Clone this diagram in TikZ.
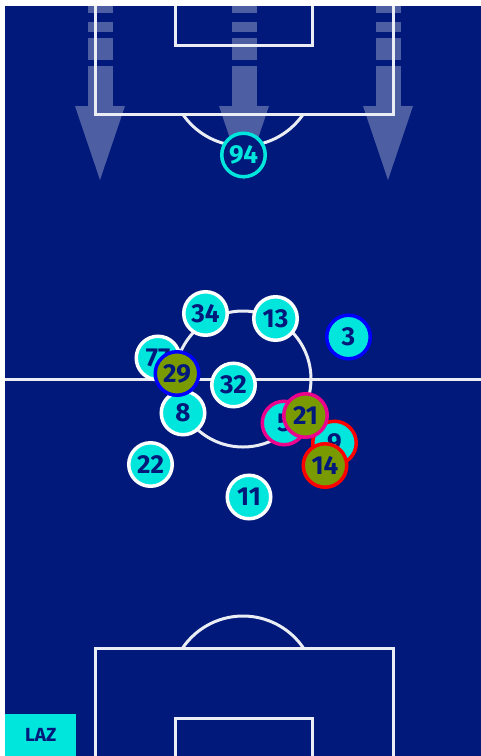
\documentclass[tikz,border=0pt]{standalone}
\usepackage{fontspec}
\setmainfont{Fira Sans}
\definecolor{pitchblue}{HTML}{00197A}
\definecolor{lazcyan}{HTML}{00E6DC}
\definecolor{oppolive}{HTML}{7A9A01}
\begin{document}
\begin{tikzpicture}[x=1pt,y=-1pt,
  pline/.style={white!92!pitchblue, line width=3pt},
  runarrow/.style={white, opacity=0.3},
  player/.style={circle, minimum size=43.5pt, inner sep=0pt, line width=3.5pt, font=\fontsize{26}{26}\selectfont\bfseries, text=pitchblue},
  laz/.style={player, fill=lazcyan, draw=white},
  opp/.style={player, fill=oppolive}]
\fill[white] (0,0) rectangle (481,756);
\fill[pitchblue] (5,6) rectangle (481,756);
\useasboundingbox (0,0) rectangle (481,756);
\foreach \x in {100,244,388} {
  \foreach \a/\b in {6/13,22/32,38/60,66/106}
    \fill[runarrow] (\x-12.5,\a) rectangle (\x+12.5,\b);
  \fill[runarrow] (\x-25,106) -- (\x+25,106) -- (\x,180) -- cycle;
}
\draw[pline] (5,379) -- (481,379);
\draw[pline] (243,379) circle[radius=68];
\draw[pline] (95,6) -- (95,114) -- (393,114) -- (393,6);
\draw[pline] (175,6) -- (175,45) -- (312,45) -- (312,6);
\draw[pline] (243,73) ++(34:73) arc[start angle=34, end angle=146, radius=73];
\draw[pline] (95,760) -- (95,648) -- (393,648) -- (393,760);
\draw[pline] (175,760) -- (175,718) -- (312,718) -- (312,760);
\draw[pline] (243,689) ++(214:73) arc[start angle=214, end angle=326, radius=73];
\node[player, draw=lazcyan, fill=pitchblue, text=lazcyan] (p94) at (243.5,155) {94};
\node[laz] (p34) at (205.5,313.5) {34};
\node[laz] (p13) at (275.5,318.5) {13};
\node[laz, draw=blue] (p3) at (348.5,337) {3};
\node[laz] (p77) at (158,358) {77};
\node[laz] (p8) at (183,413) {8};
\node[opp, draw=blue] (p29) at (177,373.5) {29};
\node[laz] (p32) at (233.5,385) {32};
\node[laz] (p22) at (150.5,464.5) {22};
\node[laz] (p11) at (249,497) {11};
\node[laz, draw=magenta] (p5) at (284,423) {5};
\node[laz, draw=red] (p9) at (334.5,443) {9};
\node[opp, draw=magenta] (p21) at (305.5,415.5) {21};
\node[opp, draw=red] (p14) at (325,465.5) {14};
\node[fill=lazcyan, minimum width=71pt, minimum height=42pt, anchor=south west, text=pitchblue, font=\fontsize{19}{19}\selectfont\bfseries] (team) at (5,756) {LAZ};
\end{tikzpicture}
\end{document}
